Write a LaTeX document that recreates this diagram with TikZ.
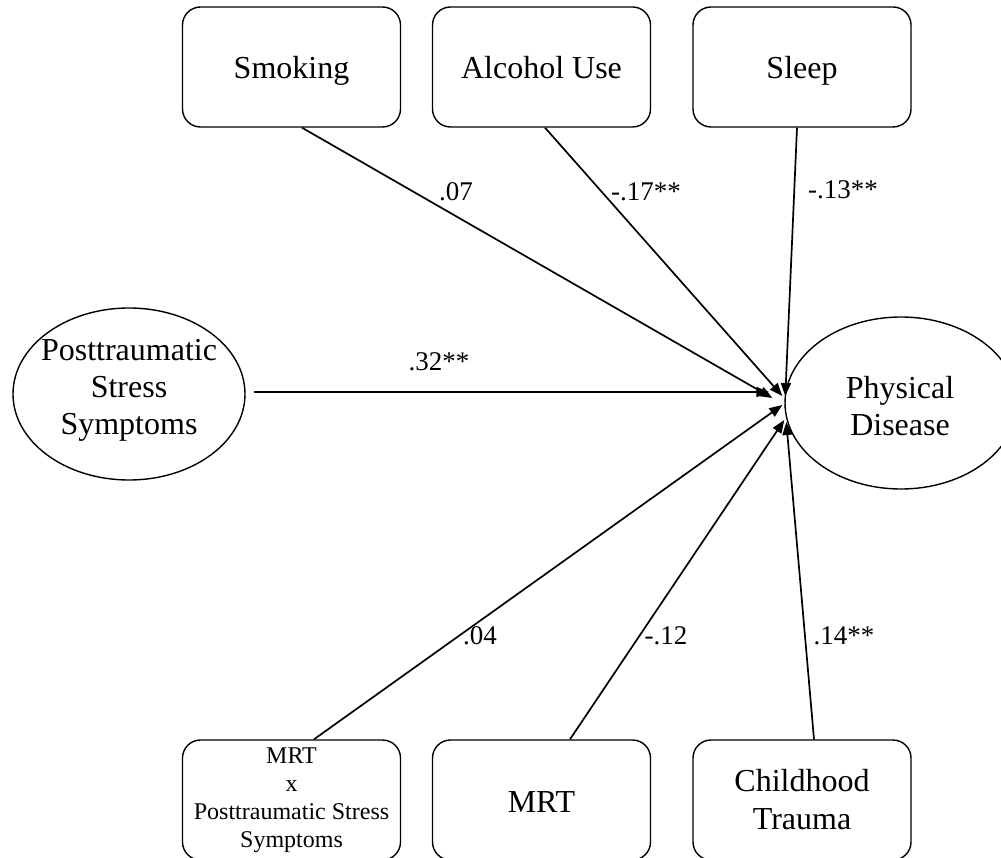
\documentclass[tikz,border=0pt]{standalone}
\usepackage{fontspec}
\setmainfont{Liberation Serif}
\usetikzlibrary{shapes.geometric,arrows.meta}

\tikzset{
  varnode/.style = {align=center, inner sep=0pt, text centered, draw=black, line width=1.4pt},
  var_r/.style = {varnode, rectangle, rounded corners=18pt, minimum width=218pt,
    minimum height=120pt, font=\fontsize{32}{38}\selectfont},% variable observee
  var_1/.style = {var_r, text height=28pt, text depth=4pt},% une seule ligne
  var_s/.style = {var_r, font=\fontsize{24}{28}\selectfont},% variable observee, petit texte
  var_e/.style = {varnode, ellipse, minimum width=232pt, minimum height=172pt},% variable latente
  var_t/.style = {align=center, inner sep=0pt, font=\fontsize{32}{37}\selectfont},% texte latente
  coef/.style = {inner sep=0pt, font=\fontsize{27}{30}\selectfont},% coefficient
  path_a/.style = {line width=1.7pt, -{Triangle[length=13pt,width=10pt]}}
}

\begin{document}
\begin{tikzpicture}[x=1pt, y=-1pt]
  \clip (0,0) rectangle (1001,858);
  % rangee du haut
  \node [var_1] (smk) at (291.5,67) {Smoking};
  \node [var_1] (alc) at (541.5,67) {Alcohol Use};
  \node [var_1] (slp) at (802,67) {Sleep};
  % latentes
  \node [var_e] (ptss) at (129,394) {};
  \node [var_t] (ptss_t) at (129,390) {Posttraumatic\\Stress\\Symptoms};
  \node [var_e] (pd) at (901,403) {};
  \node [var_t] (pd_t) at (900,406) {Physical\\Disease};
  % rangee du bas
  \node [var_s] (mrtx) at (291.5,800) {MRT\\x\\Posttraumatic Stress\\Symptoms};
  \node [var_1] (mrt) at (541.5,800) {MRT};
  \node [var_r] (cht) at (802,800) {Childhood\\Trauma};
  % chemins
  \draw [path_a] ([xshift=10.5pt]smk.south) -- ([xshift=-12pt,yshift=5pt]pd.west);
  \draw [path_a] ([xshift=3.5pt]alc.south) -- ([xshift=-2pt,yshift=7pt]pd.west);
  \draw [path_a] ([xshift=-5pt]slp.south) -- ([xshift=1pt,yshift=7pt]pd.west);
  \draw [path_a] ([xshift=8pt,yshift=2pt]ptss.east) -- ([xshift=-15pt,yshift=11pt]pd.west);
  \draw [path_a] ([xshift=22.5pt]mrtx.north) -- ([xshift=-2pt,yshift=-2pt]pd.west);
  \draw [path_a] ([xshift=28.5pt]mrt.north) -- ([yshift=-17pt]pd.west);
  \draw [path_a] ([xshift=12pt]cht.north) -- ([xshift=2pt,yshift=-19pt]pd.west);
  % coefficients
  \node [coef] (c_smk) at (456,192) {.07};
  \node [coef] (c_alc) at (646,192) {-.17**};
  \node [coef] (c_slp) at (843,190) {-.13**};
  \node [coef] (c_ptss) at (439,362) {.32**};
  \node [coef] (c_mrtx) at (480,636) {.04};
  \node [coef] (c_mrt) at (666,636) {-.12};
  \node [coef] (c_cht) at (844,636) {.14**};
\end{tikzpicture}
\end{document}
